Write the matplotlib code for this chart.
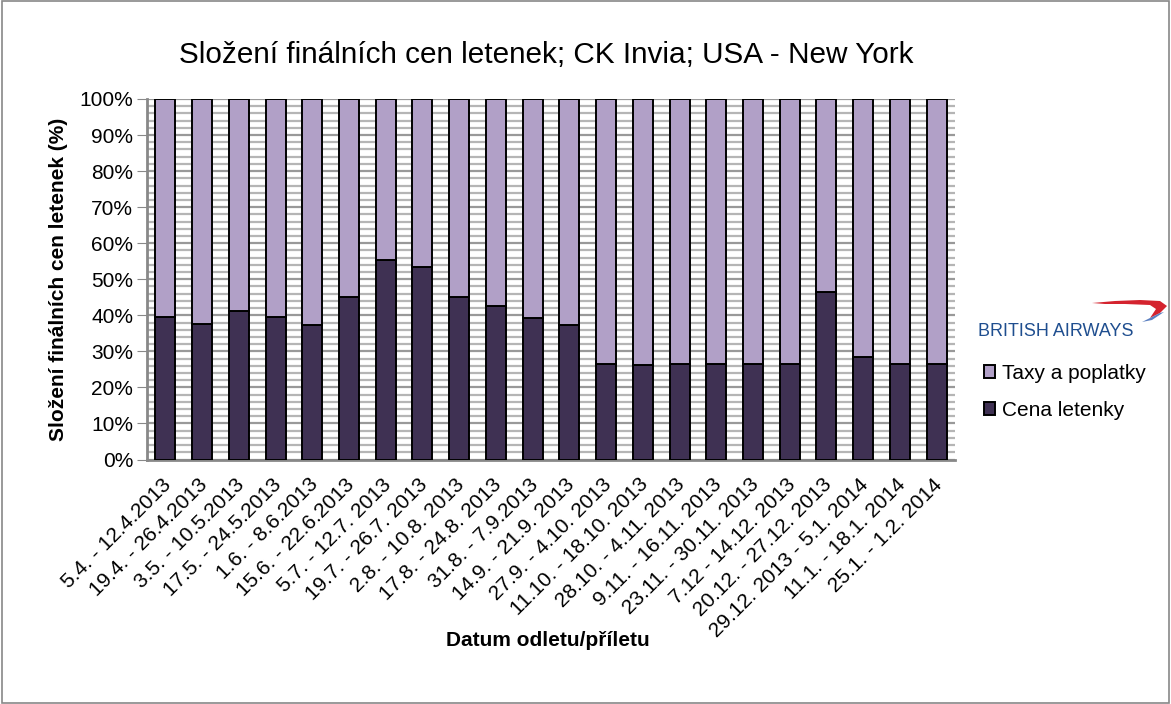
import matplotlib
matplotlib.use("Agg")
import matplotlib.pyplot as plt
import matplotlib.transforms as mtransforms
import numpy as np
from matplotlib.patches import Polygon, Rectangle
from matplotlib.ticker import MultipleLocator, PercentFormatter

plt.rcParams['font.family'] = ['Liberation Sans', 'DejaVu Sans']

categories = [
    "5.4. - 12.4.2013", "19.4. - 26.4.2013", "3.5. - 10.5.2013", "17.5. - 24.5.2013",
    "1.6. - 8.6.2013", "15.6. - 22.6.2013", "5.7. - 12.7. 2013", "19.7. - 26.7. 2013",
    "2.8. - 10.8. 2013", "17.8. - 24.8. 2013", "31.8. - 7.9.2013", "14.9. - 21.9. 2013",
    "27.9. - 4.10. 2013", "11.10. - 18.10. 2013", "28.10. - 4.11. 2013", "9.11. - 16.11. 2013",
    "23.11. - 30.11. 2013", "7.12 - 14.12. 2013", "20.12. - 27.12. 2013",
    "29.12. 2013 - 5.1. 2014", "11.1. - 18.1. 2014", "25.1. - 1.2. 2014",
]
cena_letenky = [39.5, 37.5, 41.3, 39.4, 37.4, 45.2, 55.4, 53.3, 45.1, 42.5, 39.2, 37.3,
                26.4, 26.3, 26.4, 26.4, 26.4, 26.4, 46.4, 28.5, 26.4, 26.4]
taxy_a_poplatky = [100 - v for v in cena_letenky]

title = "Složení finálních cen letenek; CK Invia; USA - New York"
ylabel = "Složení finálních cen letenek (%)"
xlabel = "Datum odletu/příletu"
series_names = ["Taxy a poplatky", "Cena letenky"]

dark = "#3f3153"
light = "#b1a0c7"

W, H = 1171, 704
def fx(px):
    return px / W
def fy(py):
    return 1 - py / H

fig = plt.figure(figsize=(W / 100, H / 100), dpi=100)
fig.patch.set_facecolor("white")
fig.patches.append(Rectangle((0.002, 0.002), 0.996, 0.996, transform=fig.transFigure,
                             fill=False, edgecolor="#888888", linewidth=1.2))

ax = fig.add_axes([fx(147), fy(459.5), (955 - 147) / W, (459.5 - 99) / H])
x = np.arange(len(categories))
w = 0.545
b1 = ax.bar(x, cena_letenky, w, color=dark, edgecolor="black", linewidth=1.4, zorder=3,
            label=series_names[1])
b2 = ax.bar(x, taxy_a_poplatky, w, bottom=cena_letenky, color=light, edgecolor="black",
            linewidth=1.4, zorder=3, label=series_names[0])

ax.set_xlim(-0.5, len(categories) - 0.5)
ax.set_ylim(0, 100)
ax.yaxis.set_major_locator(MultipleLocator(10))
ax.yaxis.set_minor_locator(MultipleLocator(2))
ax.yaxis.set_major_formatter(PercentFormatter(decimals=0))
ax.grid(axis="y", which="minor", color="#b5b5b5", linewidth=1.6, zorder=0)
ax.grid(axis="y", which="major", color="#999999", linewidth=1.6, zorder=0)
ax.tick_params(axis="y", which="major", length=7, color="#888888", labelsize=15, pad=3)
ax.tick_params(axis="y", which="minor", length=0)
ax.tick_params(axis="x", length=0, labelsize=15, pad=11)
for s in ["top", "right"]:
    ax.spines[s].set_visible(False)
for s in ["left", "bottom"]:
    ax.spines[s].set_color("#888888")
    ax.spines[s].set_linewidth(2)

ax.set_xticks(x)
ax.set_xticklabels(categories, rotation=45, ha="right", rotation_mode="anchor")
offset = mtransforms.ScaledTranslation(-3 / 72, 0, fig.dpi_scale_trans)
for lbl in ax.get_xticklabels():
    lbl.set_transform(lbl.get_transform() + offset)

ax.set_ylabel(ylabel, fontsize=15, fontweight="bold", labelpad=8)
fig.text(fx(548), fy(641), xlabel, fontsize=15, fontweight="bold", ha="center", va="center")
fig.text(fx(546), fy(55), title, fontsize=21.4, ha="center", va="center")

# British Airways logo (approximation)
fig.text(fx(978), fy(331), "BRITISH AIRWAYS", fontsize=13, fontweight="normal",
         color="#1f4e8f", ha="left", va="center")
swoosh = Polygon([(fx(1092), fy(303)), (fx(1115), fy(301)), (fx(1140), fy(300)),
                  (fx(1160), fy(301)), (fx(1167), fy(306)), (fx(1160), fy(313)),
                  (fx(1150), fy(318)), (fx(1156), fy(309)), (fx(1150), fy(305)),
                  (fx(1125), fy(304)), (fx(1105), fy(304))],
                 closed=True, transform=fig.transFigure, facecolor="#d4232e", edgecolor="none")
fig.patches.append(swoosh)
tip = Polygon([(fx(1160), fy(313)), (fx(1150), fy(318)), (fx(1142), fy(322)),
               (fx(1152), fy(320)), (fx(1164), fy(312))],
              closed=True, transform=fig.transFigure, facecolor="#5a7fc0", edgecolor="none")
fig.patches.append(tip)

leg = fig.legend(handles=[b2, b1], labels=series_names, loc="upper left",
                 bbox_to_anchor=(fx(984), fy(364)), frameon=False, fontsize=15,
                 handlelength=0.55, handleheight=0.55, handletextpad=0.3, labelspacing=0.85,
                 borderaxespad=0, borderpad=0)

fig.savefig("out.png", dpi=100)
